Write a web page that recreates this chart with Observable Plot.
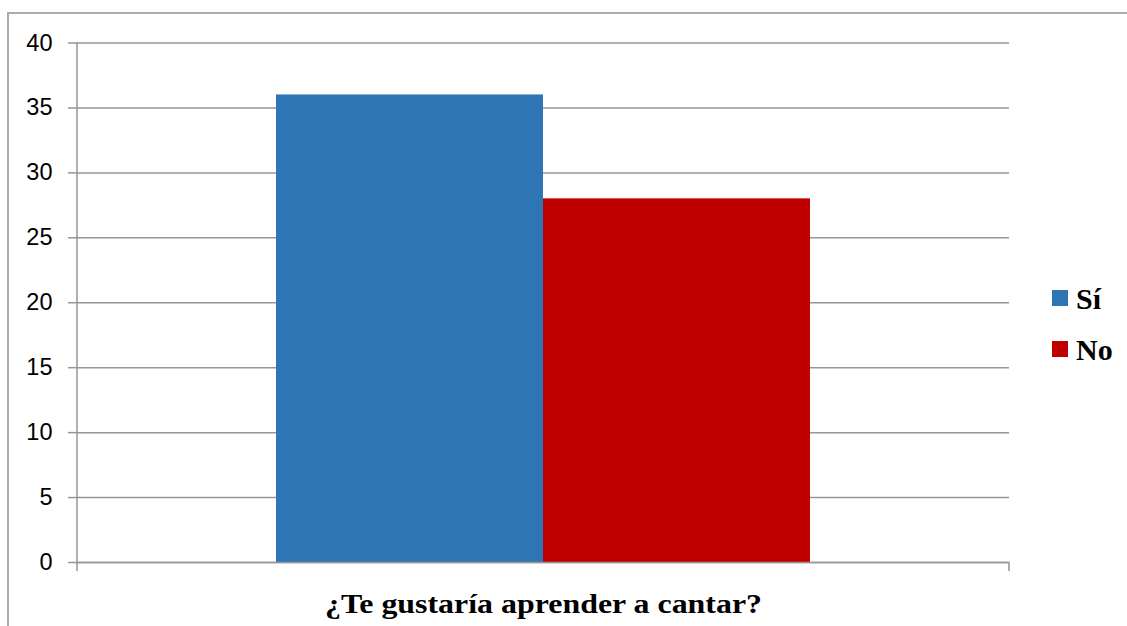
<!DOCTYPE html>
<html>
<head>
<meta charset="utf-8">
<script src="https://cdn.jsdelivr.net/npm/d3@7"></script>
<script src="https://cdn.jsdelivr.net/npm/@observablehq/plot@0.6"></script>
<style>
  html, body { margin: 0; padding: 0; background: #fff; overflow: hidden; width: 1127px; height: 626px; }
  #wrap { position: relative; width: 1127px; height: 626px; }
  #border { position: absolute; left: 7px; top: 12px; width: 1300px; height: 800px;
            border-left: 2px solid #ababab; border-top: 2px solid #ababab; box-sizing: border-box; }
  #chart { position: absolute; left: 0; top: 0; }
  .leg-swatch { position: absolute; width: 16px; height: 16px; }
  .leg-text { position: absolute; font-family: "Liberation Serif", "Times New Roman", serif;
              font-weight: bold; font-size: 30px; line-height: 30px; color: #000; white-space: nowrap; }
</style>
</head>
<body>
<div id="wrap">
  <div id="border"></div>
  <div id="chart"></div>
</div>
<script>
// ---- data ----
const categories = ["¿Te gustaría aprender a cantar?"];
const seriesNames = ["Sí", "No"];
const seriesValues = [36, 28];
const seriesColors = ["#2E75B6", "#C00000"];
const yTicks = [0, 5, 10, 15, 20, 25, 30, 35, 40];

const rows = seriesNames.map((s, i) => ({category: categories[0], series: s, value: seriesValues[i]}));

const W = 1127, H = 626;
const axisGray = "#969696";

// left axis line + category band-edge ticks below the baseline
function axisLines(index, scales, values, dimensions) {
  const {marginLeft, marginRight, width} = dimensions;
  const left = marginLeft, right = width - marginRight;
  const y0 = scales.y(0), yTop = scales.y(40);
  const g = d3.create("svg:g").attr("stroke", axisGray).attr("stroke-width", 1.5);
  g.append("line").attr("x1", left).attr("x2", left).attr("y1", yTop).attr("y2", y0 + 9);
  g.append("line").attr("x1", right).attr("x2", right).attr("y1", y0).attr("y2", y0 + 9);
  return g.node();
}

const plot = Plot.plot({
  width: W,
  height: H,
  marginLeft: 77,
  marginRight: 118,
  marginTop: 42.5,
  marginBottom: 64,
  style: {fontFamily: "'Liberation Sans', Arial, sans-serif", background: "transparent", overflow: "visible"},
  fx: {domain: categories, padding: 0, label: null},
  x: {domain: seriesNames, paddingInner: 0, paddingOuter: 0.745, axis: null},
  y: {domain: [0, 40], ticks: yTicks, label: null},
  color: {domain: seriesNames, range: seriesColors},
  marks: [
    Plot.gridY(yTicks, {stroke: axisGray, strokeOpacity: 1, strokeWidth: 1.5}),
    Plot.axisY(yTicks, {tickSize: 9, tickPadding: 16, stroke: axisGray, strokeOpacity: 1, strokeWidth: 1.5,
      fontSize: 23.5, fill: "#000", label: null}),
    Plot.barY(rows, {fx: "category", x: "series", y: "value", fill: "series", inset: 0}),
    Plot.ruleY([0], {stroke: axisGray, strokeWidth: 1.5}),
    Plot.frame({stroke: "none", render: axisLines}),
    Plot.axisFx({anchor: "bottom", tickSize: 0, tickPadding: 31, label: null,
      fontSize: 27, fontWeight: "bold", fontFamily: "'Liberation Serif', 'Times New Roman', serif", fill: "#000"})
  ]
});
// the reference's category label is rendered horizontally wider than its height suggests
d3.select(plot).selectAll('g[aria-label="fx-axis tick label"] text')
  .attr("textLength", 437).attr("lengthAdjust", "spacingAndGlyphs");
document.getElementById("chart").appendChild(plot);

// ---- legend ----
const wrap = document.getElementById("wrap");
const legTop = [290, 341];
seriesNames.forEach((s, i) => {
  const sw = document.createElement("div");
  sw.className = "leg-swatch";
  sw.style.left = "1052px";
  sw.style.top = legTop[i] + "px";
  sw.style.background = seriesColors[i];
  wrap.appendChild(sw);
  const t = document.createElement("div");
  t.className = "leg-text";
  t.style.left = "1076px";
  t.style.top = (legTop[i] - 6) + "px";
  t.textContent = s;
  wrap.appendChild(t);
});
</script>
</body>
</html>
